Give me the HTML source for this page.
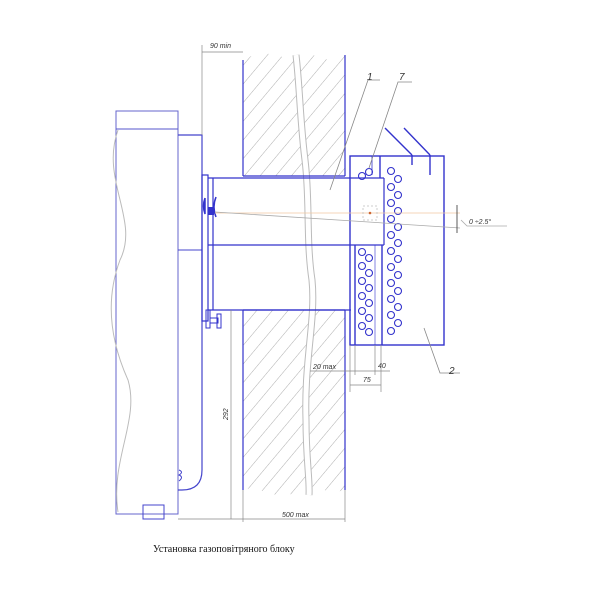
<!DOCTYPE html>
<html><head><meta charset="utf-8"><style>
html,body{margin:0;padding:0;background:#fff;}
svg{display:block;}
text{font-family:"Liberation Sans",sans-serif;font-style:italic;fill:#333;}
</style></head><body>
<svg width="600" height="600" viewBox="0 0 600 600" xmlns="http://www.w3.org/2000/svg">
<defs>
<pattern id="h" width="12" height="12" patternUnits="userSpaceOnUse" patternTransform="rotate(40)">
<line x1="0" y1="0" x2="0" y2="12" stroke="#999" stroke-width="0.8"/>
</pattern>
</defs>
<!-- walls -->
<path d="M243,60 Q260,50 280,56 Q292,62 298,55 Q310,52 320,58 Q332,62 345,55 L345,176 L243,176 Z" fill="url(#h)"/>
<path d="M243,310 L345,310 L345,490 Q330,494 320,488 Q312,484 305,490 Q280,500 260,490 Q250,487 243,490 Z" fill="url(#h)"/>
<!-- wavy break -->
<path d="M296,55 C300,90 300,120 305,160 C310,200 306,240 312,280 C316,320 304,360 306,420 C306,460 310,480 309,495" stroke="#bbb" stroke-width="7" fill="none"/>
<path d="M296,55 C300,90 300,120 305,160 C310,200 306,240 312,280 C316,320 304,360 306,420 C306,460 310,480 309,495" stroke="#fff" stroke-width="5" fill="none"/>
<g stroke="#33c" stroke-width="1.2" fill="none">
<line x1="243" y1="60" x2="243" y2="176"/><line x1="345" y1="55" x2="345" y2="176"/>
<line x1="243" y1="176" x2="345" y2="176"/>
<line x1="243" y1="310" x2="243" y2="490"/><line x1="345" y1="310" x2="345" y2="490"/>
<line x1="243" y1="310" x2="345" y2="310"/>
</g>
<!-- boiler -->
<path d="M116,111 L178,111 L178,514 L116,514 Z" fill="#fff" stroke="#66c" stroke-width="1"/>
<line x1="116" y1="129" x2="178" y2="129" stroke="#55c"/>
<path d="M118,130 C100,180 140,220 120,260 C105,300 110,340 128,380 C140,420 110,460 118,512" stroke="#bbb" fill="none"/>
<path d="M178,135 L202,135 L202,470 Q202,490 182,490 L178,490" fill="none" stroke="#44c" stroke-width="1.2"/>
<line x1="178" y1="250" x2="202" y2="250" stroke="#44c"/>
<rect x="143" y="505" width="21" height="14" fill="none" stroke="#44c"/>
<path d="M179,470 q5,2 0,5 q5,2 0,6" stroke="#44c" fill="none"/>
<!-- flange -->
<rect x="202" y="175" width="6" height="146" fill="none" stroke="#33c" stroke-width="1.2"/>
<path d="M205,198 q-3,8 0,16 l0,-16 M216,197 q-4,10 0,20" stroke="#33c" fill="none" stroke-width="1.5"/>
<rect x="208" y="207" width="6" height="8" fill="#33c"/>
<rect x="206" y="310" width="4" height="18" fill="none" stroke="#33c"/>
<rect x="210" y="318" width="8" height="5" fill="none" stroke="#33c"/>
<rect x="217" y="314" width="4" height="14" fill="none" stroke="#33c"/>
<!-- pipe -->
<g stroke="#33c" stroke-width="1.2" fill="none">
<line x1="208" y1="178" x2="384" y2="178"/>
<line x1="384" y1="178" x2="384" y2="245"/>
<line x1="208" y1="245" x2="384" y2="245"/>
<line x1="208" y1="310" x2="351" y2="310"/>
<line x1="213" y1="178" x2="213" y2="310"/>
</g>
<!-- terminal box -->
<g stroke="#33c" stroke-width="1.4" fill="none">
<rect x="350" y="156" width="94" height="189"/>
<line x1="355" y1="245" x2="355" y2="345"/>
<line x1="380" y1="156" x2="380" y2="178"/>
<line x1="382" y1="245" x2="382" y2="345"/>
<line x1="372" y1="156" x2="372" y2="175" stroke-width="0.8"/>
<line x1="375" y1="245" x2="375" y2="345" stroke-width="0.6"/>
<line x1="385" y1="128" x2="412" y2="155"/><line x1="412" y1="155" x2="412" y2="165"/>
<line x1="404" y1="128" x2="430" y2="155"/><line x1="430" y1="155" x2="430" y2="175"/>
</g>
<g stroke="#33c" stroke-width="1.1" fill="none">
<circle cx="369" cy="172" r="3.5"/><circle cx="362" cy="176" r="3.5"/>
<circle cx="362" cy="252" r="3.5"/><circle cx="369" cy="258" r="3.5"/><circle cx="362" cy="266" r="3.5"/><circle cx="369" cy="273" r="3.5"/><circle cx="362" cy="281" r="3.5"/><circle cx="369" cy="288" r="3.5"/><circle cx="362" cy="296" r="3.5"/><circle cx="369" cy="303" r="3.5"/><circle cx="362" cy="311" r="3.5"/><circle cx="369" cy="318" r="3.5"/><circle cx="362" cy="326" r="3.5"/><circle cx="369" cy="332" r="3.5"/>
<circle cx="391" cy="171" r="3.5"/><circle cx="398" cy="179" r="3.5"/><circle cx="391" cy="187" r="3.5"/><circle cx="398" cy="195" r="3.5"/><circle cx="391" cy="203" r="3.5"/><circle cx="398" cy="211" r="3.5"/><circle cx="391" cy="219" r="3.5"/><circle cx="398" cy="227" r="3.5"/><circle cx="391" cy="235" r="3.5"/><circle cx="398" cy="243" r="3.5"/><circle cx="391" cy="251" r="3.5"/><circle cx="398" cy="259" r="3.5"/><circle cx="391" cy="267" r="3.5"/><circle cx="398" cy="275" r="3.5"/><circle cx="391" cy="283" r="3.5"/><circle cx="398" cy="291" r="3.5"/><circle cx="391" cy="299" r="3.5"/><circle cx="398" cy="307" r="3.5"/><circle cx="391" cy="315" r="3.5"/><circle cx="398" cy="323" r="3.5"/><circle cx="391" cy="331" r="3.5"/>
</g>
<!-- center lines -->
<line x1="215" y1="213" x2="460" y2="213" stroke="#f0c8a0" stroke-width="0.8"/>
<line x1="215" y1="212" x2="460" y2="228" stroke="#aaa" stroke-width="0.8"/>
<rect x="363" y="206" width="14" height="14" fill="none" stroke="#ccc" stroke-dasharray="2,2"/>
<circle cx="370" cy="213" r="1.3" fill="#c63"/>
<line x1="457" y1="205" x2="457" y2="233" stroke="#333" stroke-width="0.8"/>
<path d="M461,220 l6,6 l40,0" stroke="#aaa" fill="none" stroke-width="0.8"/>
<text x="469" y="224" font-size="7">0 ÷2.5°</text>
<!-- leaders -->
<g stroke="#888" stroke-width="0.8" fill="none">
<path d="M330,190 L368,80 L380,80"/>
<path d="M369,168 L398,82 L412,82"/>
<path d="M424,328 L440,373 L460,373"/>
</g>
<text x="367" y="80" font-size="10">1</text>
<text x="399" y="80" font-size="10">7</text>
<text x="449" y="374" font-size="10">2</text>
<!-- dimensions -->
<g stroke="#888" stroke-width="0.7" fill="none">
<line x1="202" y1="45" x2="202" y2="135"/>
<line x1="202" y1="52" x2="243" y2="52"/>
<line x1="231" y1="310" x2="231" y2="519"/>
<line x1="178" y1="519" x2="243" y2="519"/>
<line x1="243" y1="490" x2="243" y2="522"/><line x1="345" y1="490" x2="345" y2="522"/>
<line x1="243" y1="519" x2="345" y2="519"/>
<line x1="350" y1="345" x2="350" y2="392"/><line x1="355" y1="345" x2="355" y2="375"/>
<line x1="375" y1="345" x2="375" y2="375"/><line x1="381" y1="345" x2="381" y2="392"/>
<line x1="310" y1="371" x2="390" y2="371"/>
<line x1="350" y1="385" x2="381" y2="385"/>
</g>
<text x="210" y="48" font-size="7">90 min</text>
<text x="313" y="369" font-size="7">20 max</text>
<text x="378" y="368" font-size="7">40</text>
<text x="363" y="382" font-size="7">75</text>
<text x="282" y="517" font-size="7">500 max</text>
<text x="228" y="420" font-size="7" transform="rotate(-90 228 420)">292</text>
<text x="153" y="552" font-size="10" style="font-style:normal;font-family:'Liberation Serif',serif;fill:#111">Установка газоповітряного блоку</text>
</svg>
</body></html>
